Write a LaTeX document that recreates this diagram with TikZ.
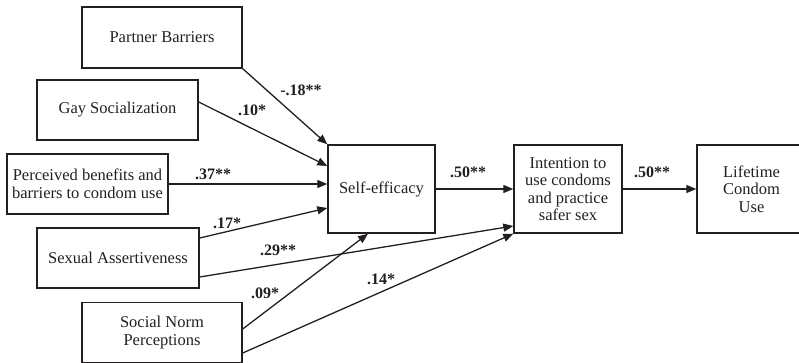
\documentclass[tikz,border=0pt]{standalone}
\usepackage{fontspec}
\setmainfont{Liberation Serif}
\usetikzlibrary{arrows.meta}
\definecolor{ink}{HTML}{231F20}
\begin{document}
\begin{tikzpicture}[x=1pt,y=-1pt,
  box/.style={draw=ink,line width=1.4pt,inner sep=0pt,align=center,text=ink,
    font=\fontsize{16.5}{17.5}\selectfont},
  path/.style={draw=ink,line width=1.3pt,-{Triangle[length=10pt,width=8pt]}},
  coef/.style={text=ink,font=\fontsize{16}{17}\selectfont\bfseries,inner sep=0pt}]
\useasboundingbox (0,0) rectangle (799,363);
\clip (0,0) rectangle (799,363);
\node[box,minimum width=160pt,minimum height=61pt] (PB) at (162,37.5) {Partner Barriers};
\node[box,minimum width=161pt,minimum height=60pt] (GS) at (117.5,110) {Gay Socialization};
\node[box,minimum width=161pt,minimum height=60pt] (BEN) at (87.5,184) {Perceived benefits and\\barriers to condom use};
\node[box,minimum width=162pt,minimum height=60pt] (SA) at (118,258) {Sexual Assertiveness};
\node[box,minimum width=160pt,minimum height=60pt] (SN) at (162,332.5) {Social Norm\\Perceptions};
\node[box,minimum width=107pt,minimum height=88pt] (SE) at (381.5,189) {Self-efficacy};
\node[box,minimum width=108pt,minimum height=88pt] (IN) at (568,189) {Intention to\\use condoms\\and practice\\safer sex};
\node[box,minimum width=109pt,minimum height=88pt] (LT) at (751.5,189) {Lifetime\\Condom\\Use};

\draw[path] (PB.south east) -- (SE.north west);
\draw[path] ([yshift=8pt]GS.east) -- ([yshift=23pt]SE.west);
\draw[path] (BEN.east) -- ([yshift=5pt]SE.west);
\draw[path] ([yshift=20pt]SA.east) -- ([yshift=-19pt]SE.west);
\draw[path] ([yshift=-19pt]SA.east) -- ([yshift=-37pt]IN.west);
\draw[path] ([yshift=3.5pt]SN.east) -- ([xshift=-13.5pt]SE.south);
\draw[path] ([yshift=-20.5pt]SN.east) -- (IN.south west);
\draw[path] (SE.east) -- (IN.west);
\draw[path] (IN.east) -- (LT.west);

\node[coef] (c1) at (301,90) {-.18**};
\node[coef] (c2) at (252,110) {.10*};
\node[coef] (c3) at (213,174) {.37**};
\node[coef] (c4) at (227,223) {.17*};
\node[coef] (c5) at (278,250) {.29**};
\node[coef] (c6) at (265,293) {.09*};
\node[coef] (c7) at (381,279) {.14*};
\node[coef] (c8) at (468,172) {.50**};
\node[coef] (c9) at (652,172) {.50**};
\end{tikzpicture}
\end{document}
